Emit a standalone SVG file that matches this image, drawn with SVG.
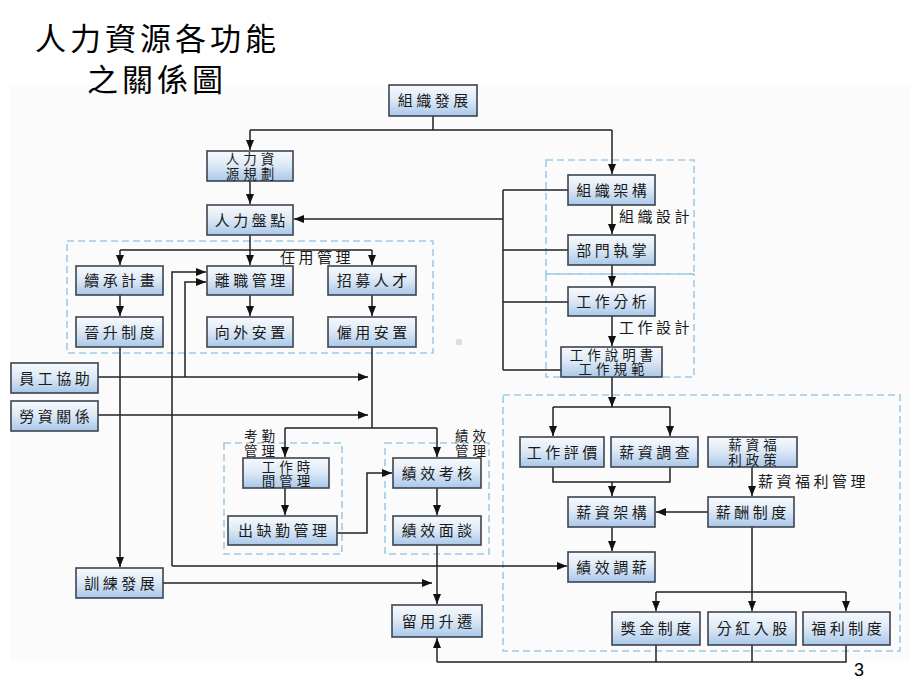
<svg xmlns="http://www.w3.org/2000/svg" width="920" height="690" viewBox="0 0 920 690">
<defs>
<linearGradient id="g" x1="0" y1="0" x2="0" y2="1">
<stop offset="0" stop-color="#f7fafd"/>
<stop offset="0.45" stop-color="#dfeaf6"/>
<stop offset="1" stop-color="#a9c8ea"/>
</linearGradient>
<marker id="a" markerWidth="10" markerHeight="8" refX="10" refY="4" orient="auto" markerUnits="userSpaceOnUse">
<path d="M0,0 L10,4 L0,8 Z" fill="#111"/>
</marker>
</defs>
<style>
.n rect{fill:url(#g);stroke:#3c4450;stroke-width:1.6}
text{font-family:"Noto Sans CJK TC","Noto Sans CJK SC",sans-serif;font-size:15px;letter-spacing:3.5px;fill:#1a1a1a}
.n text{text-anchor:middle}
.n text.two{font-size:13.5px;letter-spacing:4px}
.s{font-size:13.5px;letter-spacing:4px}
.t{font-size:31px;letter-spacing:4px;fill:#000}
.d{fill:none;stroke:#9fcbe8;stroke-width:1.6;stroke-dasharray:7 4}
.c path{fill:none;stroke:#222;stroke-width:1.5}
.c .m{marker-end:url(#a)}
</style>
<rect x="10" y="85" width="900" height="576" fill="#fbfbfb"/>
<rect x="456" y="339" width="6" height="6" fill="#dedede"/>
<text class="t" x="35" y="50">人力資源各功能</text>
<text class="t" x="87" y="91">之關係圖</text>

<g id="groups">
<rect class="d" x="67" y="241" width="366" height="112"/>
<rect class="d" x="546" y="160" width="148" height="114"/>
<rect class="d" x="546" y="274" width="148" height="103"/>
<rect class="d" x="224" y="443" width="118" height="111"/>
<rect class="d" x="385" y="443" width="104" height="111"/>
<rect class="d" x="503" y="395" width="397" height="256"/>
</g>

<g id="labels">
<text x="280" y="263">任用管理</text>
<text x="619" y="222">組織設計</text>
<text x="619" y="333">工作設計</text>
<text x="758" y="487">薪資福利管理</text>
<text class="s" x="244" y="440.5">考勤<tspan x="244" y="455.5">管理</tspan></text>
<text class="s" x="455" y="440.5">績效<tspan x="455" y="455.5">管理</tspan></text>
</g>

<g class="c" id="connectors">
<path d="M433,116 V130 M250,130 H612"/>
<path class="m" d="M250,130 V150"/>
<path class="m" d="M612,130 V174"/>
<path class="m" d="M250,181 V204"/>
<path class="m" d="M503,219 H294"/>
<path d="M503,190 V370 M503,190 H568 M503,250 H568 M503,302 H568 M503,370 H561"/>
<path class="m" d="M612,205 V234"/>
<path class="m" d="M612,265 V286"/>
<path class="m" d="M612,316 V346"/>
<path class="m" d="M612,377 V407"/>
<path d="M553,407 H670"/>
<path class="m" d="M553,407 V436"/>
<path class="m" d="M670,407 V436"/>
<path d="M250,235 V250 M120,250 H372"/>
<path class="m" d="M120,250 V265"/>
<path class="m" d="M250,250 V265"/>
<path class="m" d="M372,250 V265"/>
<path class="m" d="M120,295 V316"/>
<path class="m" d="M250,295 V316"/>
<path class="m" d="M372,295 V316"/>
<path class="m" d="M120,347 V567"/>
<path d="M372,347 V428 M285,428 H437"/>
<path class="m" d="M285,428 V457"/>
<path class="m" d="M437,428 V457"/>
<path class="m" d="M98,377 H368"/>
<path class="m" d="M98,415 H368"/>
<path class="m" d="M185,377 V282 H206"/>
<path class="m" d="M172,566 V272 H206"/>
<path class="m" d="M172,566 H567"/>
<path class="m" d="M285,488 V515"/>
<path class="m" d="M337,533 H367 V473 H392"/>
<path class="m" d="M437,488 V515"/>
<path class="m" d="M437,545 V604"/>
<path class="m" d="M163,583 H432"/>
<path d="M553,467 V482 H670 V467"/>
<path class="m" d="M612,482 V496"/>
<path class="m" d="M752,467 V496"/>
<path class="m" d="M708,512 H656"/>
<path class="m" d="M612,527 V551"/>
<path d="M752,527 V592 M656,592 H846"/>
<path class="m" d="M656,592 V611"/>
<path class="m" d="M752,592 V611"/>
<path class="m" d="M846,592 V611"/>
<path d="M656,645 V662 M752,645 V662 M846,645 V662 H437"/>
<path class="m" d="M437,662 V638"/>
</g>

<g class="n" id="n1"><rect x="389" y="85" width="88" height="31"/><text x="434.75" y="106">組織發展</text></g>
<g class="n" id="n2"><rect x="207" y="151" width="86" height="30"/><text class="two" x="252" y="164">人力資<tspan x="252" y="178.5">源規劃</tspan></text></g>
<g class="n" id="n3"><rect x="207" y="205" width="86" height="30"/><text x="251.75" y="225.5">人力盤點</text></g>
<g class="n" id="n4"><rect x="76" y="266" width="87" height="29"/><text x="121.25" y="286">續承計畫</text></g>
<g class="n" id="n5"><rect x="207" y="266" width="86" height="29"/><text x="251.75" y="286">離職管理</text></g>
<g class="n" id="n6"><rect x="328" y="266" width="88" height="29"/><text x="373.75" y="286">招募人才</text></g>
<g class="n" id="n7"><rect x="76" y="317" width="87" height="30"/><text x="121.25" y="337.5">晉升制度</text></g>
<g class="n" id="n8"><rect x="207" y="317" width="86" height="30"/><text x="251.75" y="337.5">向外安置</text></g>
<g class="n" id="n9"><rect x="328" y="317" width="88" height="30"/><text x="373.75" y="337.5">僱用安置</text></g>
<g class="n" id="n10"><rect x="11" y="363" width="87" height="30"/><text x="56.25" y="383.5">員工協助</text></g>
<g class="n" id="n11"><rect x="11" y="401" width="87" height="30"/><text x="56.25" y="421.5">勞資關係</text></g>
<g class="n" id="n12"><rect x="243" y="458" width="86" height="30"/><text class="two" x="288" y="471.5">工作時<tspan x="288" y="486">間管理</tspan></text></g>
<g class="n" id="n13"><rect x="228" y="516" width="109" height="29"/><text x="284.25" y="536">出缺勤管理</text></g>
<g class="n" id="n14"><rect x="393" y="458" width="88" height="30"/><text x="438.75" y="478.5">績效考核</text></g>
<g class="n" id="n15"><rect x="393" y="516" width="88" height="29"/><text x="438.75" y="536">績效面談</text></g>
<g class="n" id="n16"><rect x="76" y="568" width="87" height="30"/><text x="121.25" y="588.5">訓練發展</text></g>
<g class="n" id="n17"><rect x="392" y="605" width="90" height="32"/><text x="438.75" y="626.5">留用升遷</text></g>
<g class="n" id="n18"><rect x="568" y="175" width="87" height="30"/><text x="613.25" y="195.5">組織架構</text></g>
<g class="n" id="n19"><rect x="568" y="235" width="87" height="30"/><text x="613.25" y="255.5">部門執掌</text></g>
<g class="n" id="n20"><rect x="568" y="287" width="87" height="29"/><text x="613.25" y="307">工作分析</text></g>
<g class="n" id="n21"><rect x="561" y="347" width="101" height="30"/><text class="two" x="613.5" y="359.5">工作說明書<tspan x="613.5" y="374">工作規範</tspan></text></g>
<g class="n" id="n22"><rect x="520" y="437" width="84" height="30"/><text x="563.75" y="457.5">工作評價</text></g>
<g class="n" id="n23"><rect x="611" y="437" width="87" height="30"/><text x="656.25" y="457.5">薪資調查</text></g>
<g class="n" id="n24"><rect x="708" y="437" width="89" height="30"/><text class="two" x="754.5" y="450">薪資福<tspan x="754.5" y="464.5">利政策</tspan></text></g>
<g class="n" id="n25"><rect x="568" y="497" width="87" height="30"/><text x="613.25" y="517.5">薪資架構</text></g>
<g class="n" id="n26"><rect x="708" y="497" width="86" height="30"/><text x="752.75" y="517.5">薪酬制度</text></g>
<g class="n" id="n27"><rect x="568" y="552" width="87" height="30"/><text x="613.25" y="572.5">績效調薪</text></g>
<g class="n" id="n28"><rect x="612" y="612" width="88" height="33"/><text x="657.75" y="634">獎金制度</text></g>
<g class="n" id="n29"><rect x="708" y="612" width="88" height="33"/><text x="753.75" y="634">分紅入股</text></g>
<g class="n" id="n30"><rect x="803" y="612" width="87" height="33"/><text x="848.25" y="634">福利制度</text></g>

<text x="854" y="676" style="font-family:'Liberation Sans',sans-serif;font-size:18px;letter-spacing:0;fill:#000">3</text>
</svg>
